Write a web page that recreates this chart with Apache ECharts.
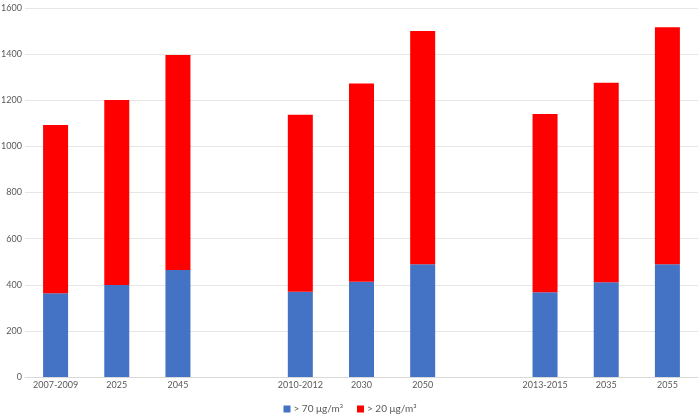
<!DOCTYPE html>
<html>
<head>
<meta charset="utf-8">
<script src="https://cdn.jsdelivr.net/npm/echarts@6/dist/echarts.min.js"></script>
<style>html,body{margin:0;padding:0;background:#fff;}#c{width:700px;height:419px;}</style>
</head>
<body>
<div id="c"></div>
<script>
var categories = ['2007-2009', '2025', '2045', '', '2010-2012', '2030', '2050', '', '2013-2015', '2035', '2055'];
var over70 = [363, 399, 464, '-', 370, 413, 489, '-', 367, 411, 489];
var over20 = [730, 802, 932, '-', 767, 860, 1011, '-', 773, 865, 1027];
var seriesNames = ['> 70 μg/m³', '> 20 μg/m³'];
var yTicks = {min: 0, max: 1600, interval: 200};

var chart = echarts.init(document.getElementById('c'));
var font = 'Lato, "Open Sans", sans-serif';
chart.setOption({
  animation: false,
  textStyle: {fontFamily: font},
  grid: {left: 25, right: 2, top: 8, bottom: 42, containLabel: false, outerBoundsMode: 'none'},
  legend: {
    bottom: 0, left: 'center', itemWidth: 7, itemHeight: 7, itemGap: 14,
    icon: 'rect',
    textStyle: {color: '#595959', fontSize: 10, fontFamily: font, padding: [0,0,0,-2]},
    data: seriesNames
  },
  xAxis: {
    type: 'category', data: categories,
    axisLine: {lineStyle: {color: '#d9d9d9'}},
    axisTick: {show: false},
    axisLabel: {color: '#595959', fontSize: 9, margin: 4, interval: 0}
  },
  yAxis: {
    type: 'value', min: yTicks.min, max: yTicks.max, interval: yTicks.interval,
    axisLine: {show: false}, axisTick: {show: false},
    axisLabel: {color: '#595959', fontSize: 9, margin: 3, formatter: function (v) { return String(v); }},
    splitLine: {lineStyle: {color: '#e6e6e6'}}
  },
  series: [
    {name: seriesNames[0], type: 'bar', stack: 's', data: over70, barWidth: 25, itemStyle: {color: '#4472C4'}},
    {name: seriesNames[1], type: 'bar', stack: 's', data: over20, barWidth: 25, itemStyle: {color: '#FF0000'}}
  ]
});
</script>
</body>
</html>
